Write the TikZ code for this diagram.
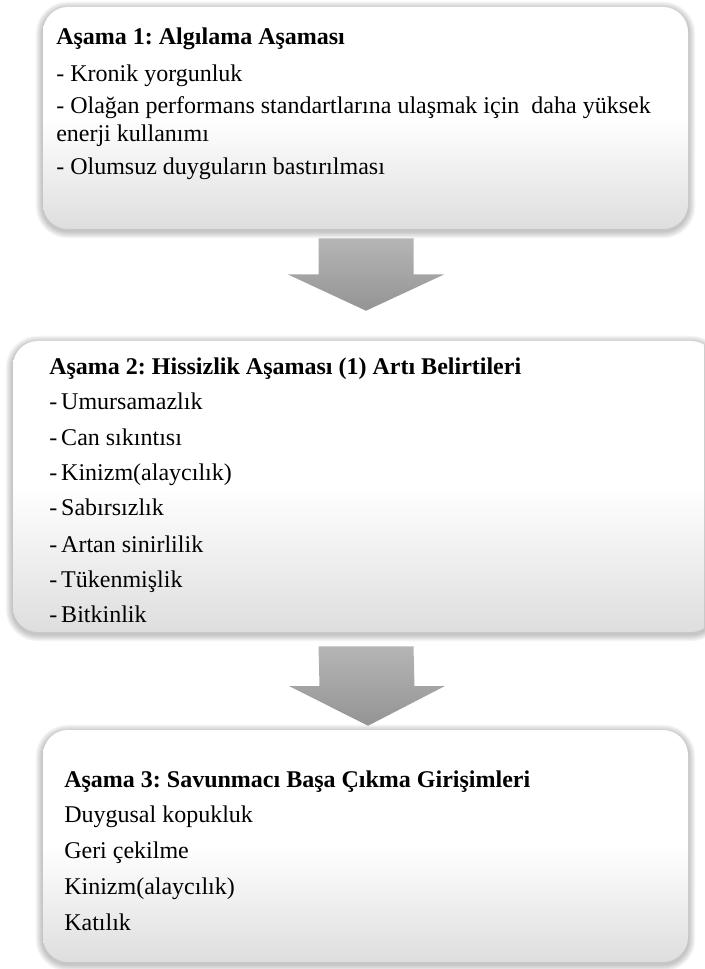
\documentclass[tikz,border=0pt]{standalone}
\usepackage{fontspec}
\setmainfont{Liberation Serif}
\frenchspacing
\usetikzlibrary{fit,calc,backgrounds}

% white upper half fading to light grey at the bottom edge
\pgfdeclareverticalshading{panelfill}{100bp}{color(0bp)=(black!13); color(25bp)=(black!13); color(50bp)=(white); color(100bp)=(white)}

\tikzset{
  panel/.style={inner sep=0pt, rounded corners=18.75pt, shading=panelfill},
  arrowfill/.style={top color=black!29, bottom color=black!42, draw=none},
  txt/.style={anchor=base west, inner sep=0pt, font=\fontsize{18pt}{21pt}\selectfont},
  head/.style={txt, font=\fontsize{18pt}{21pt}\selectfont\bfseries},
}

% soft shadow behind a panel node
\newcommand\panelshadow[1]{%
  \foreach \i in {1,...,7}{%
    \fill[black, opacity=0.035, rounded corners={18.75pt+0.75pt*\i}]
      ([shift={(-\i,-\i+2)}]#1.north west) rectangle ([shift={(\i,\i+2)}]#1.south east);
  }%
}

% block arrow from the middle of its shaft top (#1) to its tip (#2)
\newcommand\blockarrow[2]{%
  \shade[arrowfill]
    ($(#1)+(-47.5,0)$) -- ($(#1)+(47.5,0)$)
    -- ($($(#1)!.5!(#2)$)+(47.5,0)$) -- ($($(#1)!.5!(#2)$)+(78,0)$)
    -- (#2)
    -- ($($(#1)!.5!(#2)$)+(-78,0)$) -- ($($(#1)!.5!(#2)$)+(-47.5,0)$) -- cycle;
}

\begin{document}
\begin{tikzpicture}[x=0.75pt, y=-0.75pt]
  \useasboundingbox (0,0) rectangle (704,969);
  \clip (0,0) rectangle (704,969);

  % panels
  \node[panel, fit={(43,7) (688,229)}] (b1) {};
  \node[panel, fit={(13,341) (716,632)}] (b2) {};
  \node[panel, fit={(43,730) (688,962)}] (b3) {};

  \begin{scope}[on background layer]
    \panelshadow{b1}
    \panelshadow{b2}
    \panelshadow{b3}
  \end{scope}

  % arrows between the stages
  \coordinate (a1top) at ($(b1.south)+(0.5,9)$);
  \coordinate (a1tip) at ($(b2.north)+(1.5,-30)$);
  \coordinate (a2top) at ($(b2.south)+(1.5,14)$);
  \coordinate (a2tip) at ($(b3.north)+(2.5,-4)$);
  \blockarrow{a1top}{a1tip}
  \blockarrow{a2top}{a2tip}

  % stage 1
  \node[head] (h1) at (56,45) {Aşama 1: Algılama Aşaması};
  \node[txt] (p11) at (56,82) {- Kronik yorgunluk};
  \node[txt] (p12) at (56,114) {- Olağan performans standartlarına ulaşmak için~ daha yüksek};
  \node[txt] (p12b) at (56,142) {enerji kullanımı};
  \node[txt] (p13) at (56,175) {- Olumsuz duyguların bastırılması};

  % stage 2
  \node[head] (h2) at (49,374) {Aşama 2: Hissizlik Aşaması (1) Artı Belirtileri};
  \node[txt] (p21) at (49,409) {-\,Umursamazlık};
  \node[txt] (p22) at (49,445) {-\,Can sıkıntısı};
  \node[txt] (p23) at (49,480) {-\,Kinizm(alaycılık)};
  \node[txt] (p24) at (49,515) {-\,Sabırsızlık};
  \node[txt] (p25) at (49,552) {-\,Artan sinirlilik};
  \node[txt] (p26) at (49,587) {-\,Tükenmişlik};
  \node[txt] (p27) at (49,622) {-\,Bitkinlik};

  % stage 3
  \node[head] (h3) at (64,787) {Aşama 3: Savunmacı Başa Çıkma Girişimleri};
  \node[txt] (p31) at (64,822) {Duygusal kopukluk};
  \node[txt] (p32) at (64,858) {Geri çekilme};
  \node[txt] (p33) at (64,894) {Kinizm(alaycılık)};
  \node[txt] (p34) at (64,930) {Katılık};
\end{tikzpicture}
\end{document}
